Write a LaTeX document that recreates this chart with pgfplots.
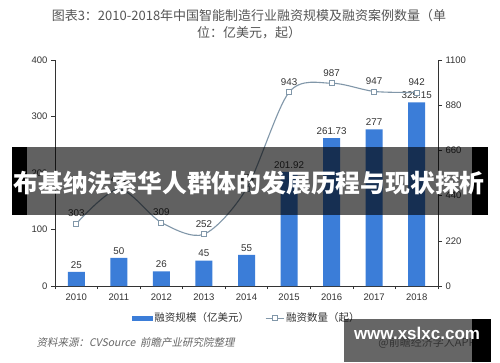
\documentclass[border=0pt]{standalone}
\usepackage{pgfplots}
\pgfplotsset{compat=1.18}
\usepackage{fontspec}
\setmainfont{Liberation Sans}
\newfontfamily\cjk{Noto Sans CJK SC}
\newfontfamily\cjkit{Noto Sans CJK SC}[FakeSlant=0.2]
\definecolor{barblue}{HTML}{3B7DD8}
\definecolor{linegray}{HTML}{8197A9}
\definecolor{txt}{HTML}{333333}
\definecolor{ttl}{HTML}{555555}
\definecolor{src}{HTML}{666666}
\begin{document}
\begin{tikzpicture}[x=1pt,y=1pt]
\useasboundingbox (0,0) rectangle (500,362);
\fill[white] (0,0) rectangle (500,362);
\node[font=\cjk\fontsize{13}{17}\selectfont, text=ttl, align=center] at (249,337.5) {图表3：2010-2018年中国智能制造行业融资规模及融资案例数量（单\\位：亿美元，起）};
\begin{axis}[at={(55pt,76pt)}, anchor=south west, scale only axis,
  width=383pt, height=226pt,
  xmin=-0.5, xmax=8.5, ymin=0, ymax=400,
  axis x line*=bottom, axis y line*=left,
  axis line style={draw=txt, line width=0.6pt},
  xtick={0,...,8}, xticklabels={2010,2011,2012,2013,2014,2015,2016,2017,2018},
  major x tick style={draw=none},
  minor xtick={-0.5,0.5,...,8.5},
  minor tick length=3pt, major tick length=4pt,
  tick align=outside, tick style={draw=txt, line width=0.6pt},
  ytick={0,100,...,400},
  ticklabel style={font=\fontsize{9.5}{11}\selectfont, text=txt},
  /pgf/number format/assume math mode=true,
  ybar, bar width=17pt,
  nodes near coords,
  nodes near coords style={font=\fontsize{9.8}{11}\selectfont, text=txt, /pgf/number format/precision=2},
  legend style={draw=none, fill=none, at={(0.5,-0.142)}, anchor=center, legend columns=2,
    font=\cjk\fontsize{10.5}{12}\selectfont, text=txt,
    /tikz/every even column/.append style={column sep=14pt}},
]
\addplot[fill=barblue, draw=none,
  legend image code/.code={\fill[barblue] (0pt,-2.5pt) rectangle (21pt,2.5pt);}]
  coordinates {(0,25) (1,50) (2,26) (3,45) (4,55) (5,201.92) (6,261.73) (7,277) (8,325.15)};
\addlegendentry{融资规模（亿美元）}
\addlegendimage{legend image code/.code={
  \draw[linegray, line width=1pt] (0pt,0pt) -- (18pt,0pt);
  \draw[linegray, line width=0.8pt, fill=white] (6.5pt,-2.5pt) rectangle (11.5pt,2.5pt);}}
\addlegendentry{融资数量（起）}
\end{axis}
\begin{axis}[at={(55pt,76pt)}, anchor=south west, scale only axis,
  width=383pt, height=226pt,
  xmin=-0.5, xmax=8.5, ymin=0, ymax=1100,
  axis x line=none, axis y line*=right,
  axis line style={draw=txt, line width=0.6pt},
  ytick={0,220,...,1100},
  major tick length=4pt,
  tick align=outside, tick style={draw=txt, line width=0.6pt},
  ticklabel style={font=\fontsize{9.5}{11}\selectfont, text=txt},
  /pgf/number format/assume math mode=true,
  /pgf/number format/1000 sep={},
]
\addplot[linegray, line width=1.1pt, smooth, mark=square*,
  mark options={fill=white, draw=linegray, line width=0.8pt}, mark size=2.5pt,
  nodes near coords,
  nodes near coords style={font=\fontsize{9.8}{11}\selectfont, text=txt, /pgf/number format/1000 sep={}, yshift=3pt}]
  coordinates {(0,303) (1,471) (2,309) (3,252) (4,474) (5,943) (6,987) (7,947) (8,942)};
\end{axis}
\node[anchor=west, font=\cjkit\fontsize{10.5}{12}\selectfont, text=src] at (33,19) {资料来源：CVSource\ \ 前瞻产业研究院整理};
% banner
\fill[black] (12,147) rectangle (27,215);
\fill[black, opacity=0.62] (27,147) rectangle (472,215);
\fill[black] (472,147) rectangle (488,215);
\node[text=white, font=\cjk\bfseries\fontsize{24.8}{26}\selectfont] at (249,179) {布基纳法索华人群体的发展历程与现状探析};
% watermark
\node[text=gray, font=\cjk\fontsize{11}{12}\selectfont] at (427,19) {@前瞻经济学人APP};
\fill[black, opacity=0.6] (344,0) rectangle (472,43);
\fill[black] (472,0) rectangle (491,43);
\node[text=white, font=\bfseries\fontsize{17}{18}\selectfont] at (417,29) {www.xslxc.com};
\end{tikzpicture}
\end{document}
